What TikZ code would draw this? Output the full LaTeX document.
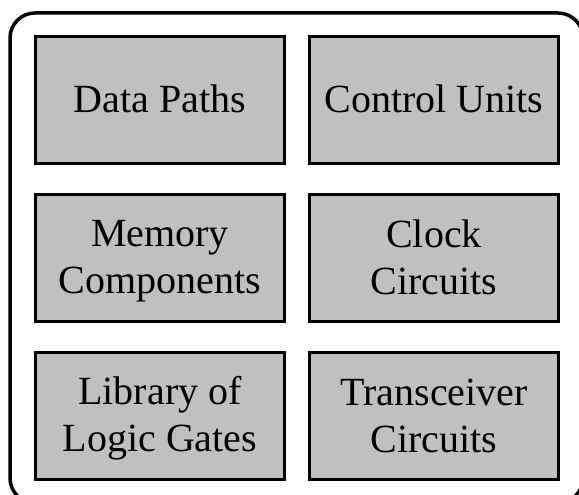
\documentclass[tikz,border=0pt]{standalone}
\usepackage{fontspec}
\setmainfont{Liberation Serif}
\usepackage{tikz}
\usetikzlibrary{positioning}
\definecolor{blockgray}{RGB}{192,192,192}
\newcommand{\bstrut}{\rule[-7pt]{0pt}{39.5pt}}

\begin{document}
\begin{tikzpicture}[
        x=1pt, y=-1pt,
        block/.style={rectangle, draw=black, line width=3pt, fill=blockgray, minimum width=249pt, minimum height=126.5pt, align=center, inner sep=0pt, font=\fontsize{40}{47}\selectfont},
        frame/.style={draw=black, line width=3.5pt, rounded corners=25pt}
    ]
        \useasboundingbox (0,0) rectangle (579,495);
        \draw[frame] (10,13) rectangle (583,503);

        \node[block] (datapaths) at (160,99.75) {\bstrut Data Paths};
        \node[block] (controlunits) at (434,99.75) {\bstrut Control Units};

        \node[block] (memory) at (160,257.75) {\bstrut Memory\\\bstrut Components};
        \node[block] (clock) at (434,257.75) {\bstrut Clock\\\bstrut Circuits};

        \node[block] (library) at (160,416) {\bstrut Library of\\\bstrut Logic Gates};
        \node[block] (transceiver) at (434,416) {\bstrut Transceiver\\\bstrut Circuits};
    \end{tikzpicture}
\end{document}
